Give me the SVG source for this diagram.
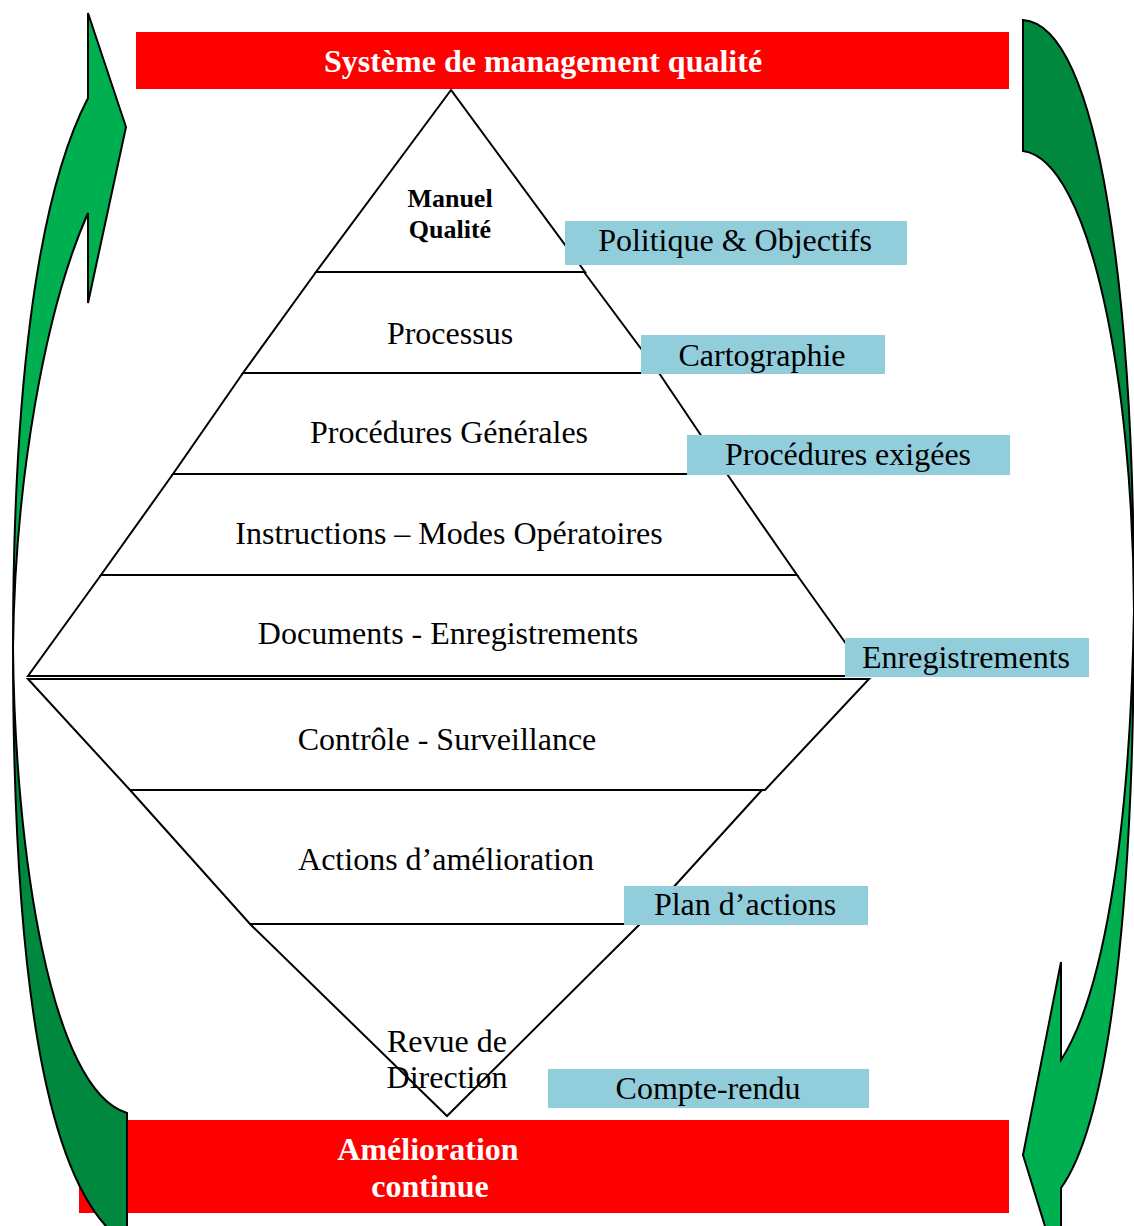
<svg xmlns="http://www.w3.org/2000/svg" width="1134" height="1226" viewBox="0 0 1134 1226">
<style>
.bar{fill:#FF0000}
.bt{font-family:"Liberation Serif","Times New Roman",serif;font-weight:bold;font-size:32px;fill:#FFFFFF;text-anchor:middle}
.t{font-family:"Liberation Serif","Times New Roman",serif;font-size:32px;fill:#000000;text-anchor:middle}
.mq{font-family:"Liberation Serif","Times New Roman",serif;font-weight:bold;font-size:26px;fill:#000000;text-anchor:middle}
.ln{fill:none;stroke:#000000;stroke-width:2;stroke-linejoin:miter}
.lb{fill:#92CDDC}
.ab{fill:#00B050;stroke:#000000;stroke-width:2;stroke-linejoin:miter}
.ad{fill:#00893E;stroke:#000000;stroke-width:2;stroke-linejoin:miter}
</style>
<rect width="1134" height="1226" fill="#FFFFFF"/>
<g id="titre">
<rect class="bar" x="136" y="32" width="873" height="57"/>
<text class="bt" x="543" y="72">Système de management qualité</text>
</g>
<g id="amelioration">
<rect class="bar" x="79" y="1120" width="930" height="93"/>
<text class="bt" x="428" y="1160">Amélioration</text>
<text class="bt" x="430" y="1197">continue</text>
</g>
<g id="connecteurs">
<g id="fleche-gauche">
<path class="ad" d="M13,648 C15,850 50,1090 127,1113 L127,1244 C40,1190 13,950 13,648 Z"/>
<path class="ab" d="M88,13 L126,127 L88,303 L88,213 C45,310 15,480 13,648 C13,400 35,200 88,98 Z"/>
</g>
<g id="fleche-droite">
<path class="ad" d="M1023,20 C1100,25 1134,300 1134,610 C1133,380 1090,160 1023,151 Z"/>
<path class="ab" d="M1061,1060 C1100,1000 1130,850 1134,610 C1134,900 1110,1120 1061,1188 L1061,1278 L1023,1155 L1061,962 Z"/>
</g>
</g>
<g id="pyramide">
<g id="manuel">
<path class="ln" d="M451,90 L316,272 L585,272 Z"/>
<text class="mq" x="450" y="207">Manuel</text>
<text class="mq" x="450" y="238">Qualité</text>
</g>
<g id="processus">
<path class="ln" d="M316,272 L243,373 L659,373 L584,272"/>
<text class="t" x="450" y="344">Processus</text>
</g>
<g id="procedures">
<path class="ln" d="M243,373 L173,474 L727,474 L659,373"/>
<text class="t" x="449" y="443">Procédures Générales</text>
</g>
<g id="instructions">
<path class="ln" d="M173,474 L101,575 L797,575 L727,474"/>
<text class="t" x="449" y="544">Instructions – Modes Opératoires</text>
</g>
<g id="documents">
<path class="ln" d="M101,575 L28,676 L869,676 L797,575"/>
<text class="t" x="448" y="644">Documents - Enregistrements</text>
</g>
<g id="controle">
<path class="ln" d="M28,679 L130,790 L765,790 L869,679 Z"/>
<text class="t" x="447" y="750">Contrôle - Surveillance</text>
</g>
<g id="actions">
<path class="ln" d="M130,790 L250,924 L640,924 L762,790"/>
<text class="t" x="446" y="870">Actions d’amélioration</text>
</g>
<g id="revue">
<path class="ln" d="M250,924 L447,1116 L640,924"/>
<text class="t" x="447" y="1052">Revue de</text>
<text class="t" x="447" y="1088">Direction</text>
</g>
</g>
<g id="politique">
<rect class="lb" x="565" y="221" width="342" height="44"/>
<text class="t" x="735" y="251">Politique &amp; Objectifs</text>
</g>
<g id="cartographie">
<rect class="lb" x="641" y="335" width="244" height="39"/>
<text class="t" x="762" y="366">Cartographie</text>
</g>
<g id="procedures-exigees">
<rect class="lb" x="687" y="435" width="323" height="40"/>
<text class="t" x="848" y="465">Procédures exigées</text>
</g>
<g id="enregistrements">
<rect class="lb" x="845" y="638" width="244" height="39"/>
<text class="t" x="966" y="668">Enregistrements</text>
</g>
<g id="plan-actions">
<rect class="lb" x="624" y="886" width="244" height="39"/>
<text class="t" x="745" y="915">Plan d’actions</text>
</g>
<g id="compte-rendu">
<rect class="lb" x="548" y="1069" width="321" height="39"/>
<text class="t" x="708" y="1099">Compte-rendu</text>
</g>
</svg>
